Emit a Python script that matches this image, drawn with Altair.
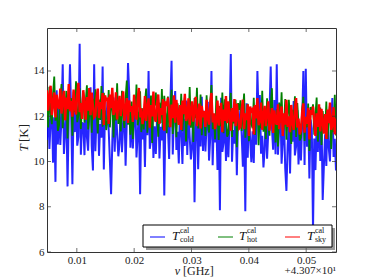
import altair as alt
import pandas as pd

# frequency axis (offset from 43.07 GHz), evenly spaced channels
x_start = 0.0048
x_end = 0.0552

cold = [
    10.95, 12.75, 10.55, 11.75, 12.55, 9.95, 11.95, 9.10, 13.15, 10.75,
    12.53, 10.73, 11.93, 14.30, 10.33, 11.33, 12.33, 8.90, 12.13, 14.30,
    12.10, 9.00, 12.50, 11.30, 13.10, 10.70, 11.10, 15.20, 10.30, 11.70,
    11.68, 10.28, 12.68, 11.08, 10.48, 12.28, 13.28, 10.68, 9.60, 14.30,
    10.45, 12.05, 12.85, 10.25, 11.65, 11.05, 14.20, 9.65, 12.25, 11.85,
    12.63, 11.43, 10.03, 8.55, 10.83, 12.83, 10.43, 12.43, 11.23, 10.23,
    10.81, 12.61, 10.41, 11.61, 12.41, 9.81, 11.81, 14.35, 13.01, 10.61,
    12.38, 10.58, 11.78, 12.78, 10.18, 11.18, 12.18, 8.55, 11.98, 10.98,
    11.96, 9.76, 12.36, 11.16, 14.00, 10.56, 10.96, 12.56, 10.16, 11.56,
    10.33, 11.93, 12.73, 10.13, 11.53, 10.93, 12.33, 8.50, 12.13, 11.73,
    11.51, 10.11, 12.51, 14.45, 10.31, 12.11, 13.11, 10.51, 11.31, 9.91,
    12.49, 11.29, 9.89, 11.89, 10.69, 12.69, 10.29, 12.29, 11.09, 10.09,
    10.66, 12.46, 8.20, 11.46, 12.26, 9.66, 11.66, 10.66, 12.86, 10.46,
    12.24, 10.44, 11.64, 12.64, 10.04, 11.04, 14.00, 9.84, 11.84, 10.84,
    11.82, 9.62, 12.22, 7.85, 12.82, 10.42, 10.82, 12.42, 10.02, 11.42,
    10.19, 11.79, 14.75, 9.99, 11.39, 10.79, 12.19, 9.39, 11.99, 11.59,
    12.37, 11.17, 9.77, 11.77, 7.80, 12.57, 10.17, 12.17, 10.97, 9.97,
    11.34, 9.94, 12.34, 10.74, 14.00, 11.94, 12.94, 10.34, 11.14, 9.74,
    10.52, 12.32, 10.12, 11.32, 12.12, 14.20, 11.52, 10.52, 12.72, 10.32,
    14.30, 10.30, 11.50, 12.50, 9.90, 10.90, 11.90, 9.70, 8.70, 10.70,
    11.67, 9.47, 12.07, 10.87, 12.67, 10.27, 10.67, 12.27, 9.87, 11.27,
    10.05, 11.65, 14.00, 9.85, 14.10, 10.65, 12.05, 9.25, 11.85, 11.45,
    7.00, 11.02, 9.62, 11.62, 10.42, 12.42, 10.02, 12.02, 8.30, 9.82,
    11.20, 9.80, 12.20, 10.60, 10.00, 11.80, 12.80, 10.20, 11.00, 9.60,
]

hot = [
    12.55, 11.50, 13.30, 12.10, 11.65, 13.00, 13.75, 11.80, 12.40, 11.35,
    11.62, 12.82, 13.42, 11.47, 12.52, 12.07, 13.12, 11.02, 12.97, 12.67,
    12.79, 11.14, 13.09, 12.19, 13.54, 11.74, 12.04, 13.24, 11.44, 12.49,
    13.07, 11.72, 12.62, 13.37, 11.42, 12.17, 12.92, 11.27, 12.77, 12.02,
    13.19, 12.29, 11.24, 12.74, 11.84, 13.34, 11.54, 13.04, 12.14, 11.39,
    11.81, 13.16, 11.51, 12.41, 13.01, 11.06, 12.56, 11.81, 13.46, 11.66,
    12.38, 11.33, 13.13, 11.93, 11.48, 12.83, 13.58, 11.63, 12.23, 11.18,
    12.65, 11.00, 12.95, 12.05, 13.40, 11.60, 11.90, 13.10, 11.30, 12.35,
    11.42, 12.62, 13.22, 11.27, 12.32, 11.87, 12.92, 10.82, 12.77, 12.47,
    13.05, 12.15, 11.10, 12.60, 11.70, 13.20, 11.40, 12.90, 12.00, 11.25,
    12.87, 11.52, 12.42, 13.17, 11.22, 11.97, 12.72, 11.07, 12.57, 11.82,
    11.64, 12.99, 11.34, 12.24, 12.84, 10.89, 12.39, 11.64, 13.29, 11.49,
    12.51, 10.86, 12.81, 11.91, 13.26, 11.46, 11.76, 12.96, 11.16, 12.21,
    12.18, 11.13, 12.93, 11.73, 11.28, 12.63, 13.38, 11.43, 12.03, 10.98,
    12.90, 12.00, 10.95, 12.45, 11.55, 13.05, 11.25, 12.75, 11.85, 11.10,
    11.23, 12.43, 13.03, 11.08, 12.13, 11.68, 12.73, 10.63, 12.58, 12.28,
    12.70, 11.35, 12.25, 13.00, 11.05, 11.80, 12.55, 10.90, 12.40, 11.65,
    11.47, 12.82, 11.17, 12.07, 12.67, 10.72, 12.22, 11.47, 13.12, 11.32,
    12.04, 10.99, 12.79, 11.59, 11.14, 12.49, 13.24, 11.29, 11.89, 10.84,
    12.31, 10.66, 12.61, 11.71, 13.06, 11.26, 11.56, 12.76, 10.96, 12.01,
    12.73, 11.83, 10.78, 12.28, 11.38, 12.88, 11.08, 12.58, 11.68, 10.93,
    11.06, 12.26, 12.86, 10.91, 11.96, 11.51, 12.56, 10.46, 12.41, 12.11,
    12.53, 11.18, 12.08, 12.83, 10.88, 11.63, 12.38, 10.73, 12.23, 11.48,
    11.30, 12.65, 11.00, 11.90, 12.50, 10.55, 12.05, 11.30, 12.95, 11.15,
]

sky = [
    13.15, 12.25, 12.85, 13.35, 12.05, 12.55, 13.05, 11.95, 12.95, 12.45,
    12.32, 13.22, 12.12, 12.72, 13.12, 11.82, 12.82, 12.32, 13.42, 12.22,
    12.68, 11.98, 13.18, 12.38, 12.08, 12.98, 13.48, 12.18, 12.58, 11.88,
    13.15, 12.55, 11.85, 12.85, 12.25, 13.25, 12.05, 13.05, 12.45, 11.95,
    12.02, 12.82, 13.22, 11.92, 12.62, 12.32, 13.02, 11.62, 12.92, 12.72,
    12.76, 11.66, 12.96, 12.36, 13.26, 12.06, 12.26, 13.06, 11.86, 12.56,
    12.90, 12.00, 12.60, 13.10, 11.80, 12.30, 12.80, 11.70, 12.70, 12.20,
    12.45, 11.75, 12.95, 12.15, 11.85, 12.75, 13.25, 11.95, 12.35, 11.65,
    11.99, 12.89, 11.79, 12.39, 12.79, 11.49, 12.49, 11.99, 13.09, 11.89,
    11.76, 12.56, 12.96, 11.66, 12.36, 12.06, 12.76, 11.36, 12.66, 12.46,
    12.82, 12.22, 11.52, 12.52, 11.92, 12.92, 11.72, 12.72, 12.12, 11.62,
    12.49, 11.39, 12.69, 12.09, 12.99, 11.79, 11.99, 12.79, 11.59, 12.29,
    12.66, 11.76, 12.36, 12.86, 11.56, 12.06, 12.56, 11.46, 12.46, 11.96,
    12.23, 11.53, 12.73, 11.93, 11.63, 12.53, 13.03, 11.73, 12.13, 11.43,
    11.79, 12.69, 11.59, 12.19, 12.59, 11.29, 12.29, 11.79, 12.89, 11.69,
    12.66, 12.06, 11.36, 12.36, 11.76, 12.76, 11.56, 12.56, 11.96, 11.46,
    11.53, 12.33, 12.73, 11.43, 12.13, 11.83, 12.53, 11.13, 12.43, 12.23,
    12.30, 11.20, 12.50, 11.90, 12.80, 11.60, 11.80, 12.60, 11.40, 12.10,
    12.46, 11.56, 12.16, 12.66, 11.36, 11.86, 12.36, 11.26, 12.26, 11.76,
    11.63, 12.53, 11.43, 12.03, 12.43, 11.13, 12.13, 11.63, 12.73, 11.53,
    12.00, 11.30, 12.50, 11.70, 11.40, 12.30, 12.80, 11.50, 11.90, 11.20,
    11.37, 12.17, 12.57, 11.27, 11.97, 11.67, 12.37, 10.97, 12.27, 12.07,
    12.43, 11.83, 11.13, 12.13, 11.53, 12.53, 11.33, 12.33, 11.73, 11.23,
    12.10, 11.00, 12.30, 11.70, 12.60, 11.40, 11.60, 12.40, 11.20, 11.90,
]

x_ticks = [0.01, 0.02, 0.03, 0.04, 0.05]
y_ticks = [6, 8, 10, 12, 14]
y_domain = [6, 15.9]

n = len(cold)
freq = [x_start + i * (x_end - x_start) / (n - 1) for i in range(n)]

W, H = 289, 224
SERIF = "Liberation Serif"

xscale = alt.Scale(domain=[x_start, x_end], nice=False, zero=False)
yscale = alt.Scale(domain=y_domain, nice=False, zero=False)

xenc = alt.X("x:Q", scale=xscale,
             axis=alt.Axis(values=x_ticks, format=".2f", title=None, domain=False,
                           ticks=False, grid=False, labelFont=SERIF, labelFontSize=11,
                           labelColor="#222", labelPadding=2))
yenc = alt.Y("T:Q", scale=yscale,
             axis=alt.Axis(values=y_ticks, format="d", title=None, domain=False,
                           ticks=False, grid=False, labelFont=SERIF, labelFontSize=11,
                           labelColor="#222", labelPadding=3))


def series_layer(vals, color, width=1.0, opacity=1.0):
    df = pd.DataFrame({"x": freq, "T": vals})
    return alt.Chart(df).mark_line(color=color, strokeWidth=width, opacity=opacity,
                                   clip=True).encode(x=xenc, y=yenc)


lines = [
    series_layer(cold, "#0000ff", 2.0, 0.85),
    series_layer(hot, "#008000", 1.8, 1.0),
    series_layer(sky, "#ff0000", 2.4, 1.0),
]

xt = pd.DataFrame({"x": x_ticks})
yt = pd.DataFrame({"T": y_ticks})
ticks = [
    alt.Chart(xt).mark_tick(orient="vertical", color="#333", size=4, thickness=1)
    .encode(x=xenc, y=alt.value(H - 2)),
    alt.Chart(xt).mark_tick(orient="vertical", color="#333", size=4, thickness=1)
    .encode(x=xenc, y=alt.value(2)),
    alt.Chart(yt).mark_tick(orient="horizontal", color="#333", size=4, thickness=1)
    .encode(y=yenc, x=alt.value(2)),
    alt.Chart(yt).mark_tick(orient="horizontal", color="#333", size=4, thickness=1)
    .encode(y=yenc, x=alt.value(W - 2)),
]

one = pd.DataFrame({"a": [0]})

# legend box with shadow
leg = [
    alt.Chart(one).mark_rect(fill="#555", opacity=0.6).encode(
        x=alt.value(99), x2=alt.value(288), y=alt.value(200), y2=alt.value(222)),
    alt.Chart(one).mark_rect(fill="white", stroke="black", strokeWidth=1).encode(
        x=alt.value(96), x2=alt.value(285), y=alt.value(197), y2=alt.value(219)),
]
legend_items = [
    (103, 129, "cold", "#0000ff"),
    (171, 196, "hot", "#008000"),
    (238, 264, "sky", "#ff0000"),
]
for lx, tx, sub, col in legend_items:
    leg.append(alt.Chart(one).mark_rule(color=col, strokeWidth=1).encode(
        x=alt.value(lx), x2=alt.value(lx + 15), y=alt.value(209)))
    leg.append(alt.Chart(one).mark_text(text="T", font=SERIF, fontStyle="italic",
                                        fontSize=13, align="left", baseline="middle",
                                        color="#111").encode(
        x=alt.value(tx - 4), y=alt.value(208)))
    leg.append(alt.Chart(one).mark_text(text="cal", font=SERIF, fontSize=8,
                                        align="left", baseline="middle",
                                        color="#111").encode(
        x=alt.value(tx + 4), y=alt.value(203)))
    leg.append(alt.Chart(one).mark_text(text=sub, font=SERIF, fontSize=8,
                                        align="left", baseline="middle",
                                        color="#111").encode(
        x=alt.value(tx + 4), y=alt.value(212)))

labels = [
    alt.Chart(one).mark_text(text="ν", font=SERIF, fontStyle="italic", fontSize=12,
                             align="right", baseline="middle", color="#222").encode(
        x=alt.value(133), y=alt.value(243)),
    alt.Chart(one).mark_text(text="[GHz]", font=SERIF, fontSize=12, align="left",
                             baseline="middle", color="#222").encode(
        x=alt.value(136), y=alt.value(243)),
    alt.Chart(one).mark_text(text="+4.307×10¹", font=SERIF, fontSize=11, align="right",
                             baseline="middle", color="#222").encode(
        x=alt.value(W), y=alt.value(243)),
    alt.Chart(one).mark_text(text="T", font=SERIF, fontStyle="italic", fontSize=13,
                             angle=270, align="center", baseline="middle",
                             color="#222").encode(
        x=alt.value(-23), y=alt.value(120)),
    alt.Chart(one).mark_text(text="[K]", font=SERIF, fontSize=13, angle=270,
                             align="center", baseline="middle", color="#222").encode(
        x=alt.value(-23), y=alt.value(105)),
]

chart = alt.layer(*lines, *ticks, *leg, *labels).properties(
    width=W, height=H,
    padding={"left": 39, "top": 20, "right": 25, "bottom": 26},
    autosize=alt.AutoSizeParams(type="none"),
).configure_view(stroke="#333", strokeWidth=1)

chart.save("out.html", embed_options={"renderer": "svg", "actions": False})
